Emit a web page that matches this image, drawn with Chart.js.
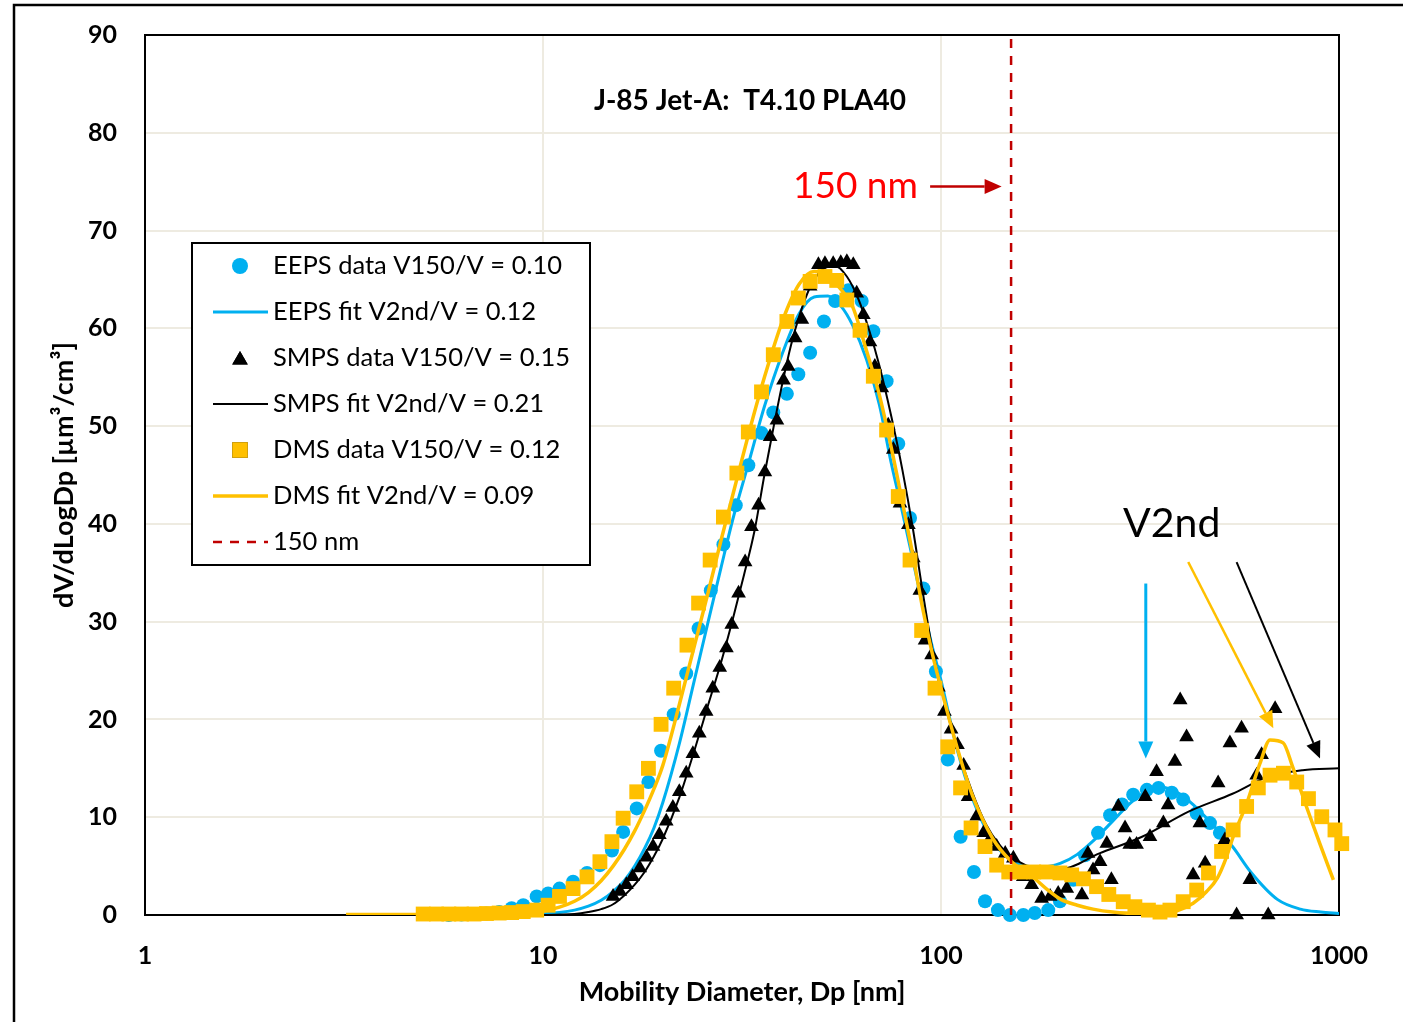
<!DOCTYPE html>
<html>
<head>
<meta charset="utf-8">
<title>J-85 Jet-A: T4.10 PLA40</title>
<script src="https://cdn.jsdelivr.net/npm/chart.js@4.4.1/dist/chart.umd.min.js"></script>
<style>
  html, body { margin: 0; padding: 0; background: #fff; }
  canvas { display: block; }
</style>
</head>
<body>
<canvas id="psd" width="1403" height="1022"></canvas>
<script>
// EEPS measured size distribution (nm, um3/cm3)
const eepsDp = [5.8, 6.24, 6.71, 7.21, 7.76, 8.34, 8.92, 9.64, 10.3, 11.0, 11.9, 12.9, 13.9, 14.9, 15.9, 17.2, 18.4, 19.8, 21.3, 22.9,
  24.6, 26.4, 28.4, 30.5, 32.8, 35.4, 37.9, 41.0, 43.8, 46.9, 50.8, 54.2, 58.5, 63.2, 67.6, 73.0, 78.1, 83.6, 90.3, 97.1,
  104, 112, 121, 129, 139, 149, 161, 172, 186, 199, 215, 230, 248, 266, 285, 304, 329, 352, 380, 406, 439, 474, 502];
const eepsDv = [0.0, 0.05, 0.1, 0.15, 0.3, 0.7, 1.0, 1.9, 2.2, 2.7, 3.4, 4.3, 5.1, 6.6, 8.5, 10.9, 13.6, 16.8, 20.5, 24.7,
  29.3, 33.2, 37.9, 41.9, 46.0, 49.3, 51.4, 53.3, 55.3, 57.5, 60.7, 62.8, 63.9, 62.8, 59.7, 54.6, 48.2, 40.6, 33.4, 24.9,
  15.9, 8.0, 4.4, 1.4, 0.5, 0.0, 0.0, 0.2, 0.5, 1.4, 3.6, 6.1, 8.4, 10.2, 11.3, 12.3, 12.8, 13.0, 12.5, 11.8, 10.4, 9.4, 8.4];

// EEPS bimodal fit
const eepsFitDp = [7, 8, 9, 10, 11, 12, 13, 14, 15, 16, 17, 18, 19, 20, 22, 24, 26, 28, 30, 33, 36, 40, 44, 48, 52, 56, 60, 65, 70,
  75, 80, 85, 90, 95, 100, 110, 120, 130, 140, 150, 160, 180, 200, 220, 240, 270, 300, 330, 355, 390, 430, 480, 540, 600, 700, 800, 900, 1000];
const eepsFitDv = [0, 0.02, 0.05, 0.12, 0.25, 0.5, 0.9, 1.5, 2.4, 3.5, 5.0, 6.8, 8.9, 11.5, 17.5, 24.0, 30.0, 35.5, 40.5, 46.5, 52.0, 57.5, 61.5, 63.2, 63.3, 62.3, 60.3, 56.8, 52.2,
  46.2, 41.2, 36.3, 31.6, 27.5, 24.0, 16.8, 11.9, 8.7, 6.7, 5.6, 5.1, 4.9, 5.3, 6.2, 7.5, 9.6, 11.5, 12.7, 13.1, 12.6, 11.3, 9.3, 7.0, 4.4, 1.6, 0.6, 0.3, 0.15];

// SMPS measured size distribution
const smpsDp = [15.0, 15.6, 16.2, 16.8, 17.5, 18.2, 18.9, 19.6, 20.4, 21.2, 22.0, 22.9, 23.8, 24.7, 25.7, 26.7, 27.8, 28.9, 29.8, 31.0,
  32.2, 33.4, 34.8, 36.1, 37.2, 38.7, 40.2, 41.3, 43.0, 44.7, 46.9, 49.2, 51.1, 53.6, 56.0, 58.0, 60.2, 61.4, 63.8, 66.3,
  68.2, 71.0, 73.7, 75.9, 78.9, 82.8, 85.2, 88.5, 91.2, 94.7, 98.5, 102, 106, 110, 114, 117, 123, 128, 132, 138,
  145, 152, 161, 169, 179, 188, 197, 207, 226, 234, 241, 251, 261, 268, 279, 290, 298, 310, 326, 335,
  348, 362, 372, 387, 399, 414, 430, 447, 461, 497, 517, 532, 553, 569, 597, 621, 639, 664, 691];
const smpsDv = [1.9, 2.4, 3.1, 3.9, 4.8, 5.9, 7.0, 8.2, 9.6, 11.0, 12.6, 14.5, 16.5, 18.6, 20.8, 23.2, 25.3, 27.3, 29.7, 32.9,
  36.1, 39.7, 41.9, 45.3, 48.9, 50.6, 54.7, 56.1, 59.0, 60.9, 64.3, 66.5, 66.6, 66.6, 66.7, 66.8, 66.5, 63.6, 61.4, 58.6,
  56.1, 53.9, 50.1, 47.6, 42.1, 39.9, 36.5, 33.2, 28.1, 26.6, 23.3, 20.8, 19.0, 17.4, 15.3, 12.1, 10.1, 8.4, 7.6, 7.0,
  6.3, 5.8, 3.9, 3.1, 1.7, 1.9, 2.2, 2.7, 2.05, 6.3, 4.6, 5.45, 7.3, 3.6, 11.1, 8.9, 7.2, 7.2, 12.1, 8.0,
  14.65, 9.4, 11.25, 15.7, 22.0, 18.2, 4.1, 9.4, 5.3, 13.5, 7.7, 17.6, 0, 19.1, 3.6, 14.3, 16.4, 0, 21.1];

// SMPS bimodal fit
const smpsFitDp = [8, 10, 12, 13, 14, 15, 16, 17, 18, 19, 20, 22, 24, 26, 28, 30, 32, 34, 36, 38, 40, 42, 44, 47, 50, 54, 58, 62, 66, 70,
  75, 80, 85, 90, 95, 100, 110, 120, 130, 140, 150, 165, 180, 200, 250, 320, 420, 540, 660, 810, 1000];
const smpsFitDv = [0, 0.01, 0.1, 0.3, 0.6, 1.1, 2.0, 3.1, 4.4, 6.0, 7.8, 12.0, 16.8, 21.5, 25.8, 30.3, 34.8, 39.3, 45.0, 50.0, 54.5, 58.3, 61.2, 64.3, 65.9, 66.4, 65.3, 63.0, 59.8, 56.2,
  51.0, 45.5, 39.5, 33.0, 27.3, 23.2, 17.0, 12.5, 9.2, 7.2, 6.0, 5.0, 4.7, 4.7, 6.3, 8.0, 10.6, 12.4, 14.1, 14.8, 15.0];

// DMS measured size distribution
const dmsDp = [5.0, 5.4, 5.8, 6.24, 6.71, 7.21, 7.76, 8.34, 8.92, 9.64, 10.3, 11.0, 11.9, 12.9, 13.9, 14.9, 15.9, 17.2, 18.4, 19.8,
  21.3, 23.0, 24.6, 26.3, 28.4, 30.7, 32.8, 35.4, 37.9, 41.0, 43.8, 46.9, 51.1, 54.7, 58.0, 62.6, 67.6, 73.0, 78.1, 83.6,
  89.4, 96.6, 104, 112, 119, 129, 138, 148, 158, 171, 184, 199, 213, 228, 246, 264, 287, 307, 332, 355,
  376, 406, 439, 470, 507, 542, 586, 627, 671, 725, 783, 838, 905, 977, 1016];
const dmsDv = [0.1, 0.1, 0.1, 0.1, 0.1, 0.15, 0.2, 0.25, 0.35, 0.5, 1.0, 1.9, 2.7, 3.9, 5.45, 7.5, 9.9, 12.6, 15.0, 19.5,
  23.2, 27.6, 31.9, 36.3, 40.7, 45.2, 49.4, 53.5, 57.3, 60.7, 63.1, 64.8, 65.3, 64.9, 62.9, 59.8, 55.1, 49.6, 42.8, 36.3,
  29.1, 23.2, 17.2, 13.0, 8.9, 7.0, 5.1, 4.4, 4.4, 4.4, 4.4, 4.3, 4.1, 3.7, 2.9, 2.1, 1.36, 0.85, 0.5, 0.3,
  0.5, 1.36, 2.55, 4.3, 6.5, 8.7, 11.1, 13.0, 14.3, 14.5, 13.6, 11.9, 10.05, 8.7, 7.3];

// DMS bimodal fit
const dmsFitDp = [3.2, 5, 7, 9, 10, 11, 12, 13, 14, 15, 16, 17, 18, 19, 20, 22, 24, 26, 28, 30, 33, 36, 40, 44, 48, 52, 56, 60, 65, 70,
  75, 80, 85, 90, 95, 100, 110, 120, 135, 150, 170, 185, 200, 220, 241, 270, 310, 350, 390, 430, 465, 495, 520, 542, 586, 633, 671, 724, 764, 828, 895, 968];
const dmsFitDv = [0.05, 0.05, 0.1, 0.2, 0.4, 0.8, 1.4, 2.3, 3.5, 5.0, 6.7, 8.6, 10.7, 12.9, 15.3, 21.5, 27.5, 33.0, 38.3, 43.0, 49.5, 55.0, 60.8, 64.5, 65.8, 65.3, 64.0, 62.2, 57.7, 53.2,
  47.8, 42.2, 36.8, 31.3, 26.8, 23.2, 17.0, 12.2, 7.8, 5.5, 3.9, 2.6, 1.6, 1.0, 0.6, 0.3, 0.15, 0.15, 0.4, 1.2, 2.4, 3.8, 5.8, 8.0, 11.4, 15.5, 17.9, 17.6, 15.2, 11.1, 7.3, 3.6];

const xTicks = [1, 10, 100, 1000];
const yMin = 0, yMax = 90, yStep = 10;
const cutoffDp = 150;

const BLUE = "#00B0F0";
const GOLD = "#FFC000";
const DARKRED = "#C00000";
const FONT = "Lato, 'Open Sans', sans-serif";
const GRID = "#EEEBE1";

const pairs = (xs, ys) => xs.map((x, i) => ({ x, y: ys[i] }));

const legendItems = [
  { text: "EEPS data V150/V = 0.10", marker: "circle", color: BLUE },
  { text: "EEPS fit V2nd/V = 0.12", line: BLUE, width: 3 },
  { text: "SMPS data V150/V = 0.15", marker: "triangle", color: "#000" },
  { text: "SMPS fit V2nd/V = 0.21", line: "#000", width: 2 },
  { text: "DMS data V150/V = 0.12", marker: "rect", color: GOLD },
  { text: "DMS fit V2nd/V = 0.09", line: GOLD, width: 3.5 },
  { text: "150 nm", line: DARKRED, width: 2.5, dash: [9, 8] },
];

// arrows pointing at the second (coarse) mode of each fit, in data units
const v2ndArrows = [
  { from: [327, 33.9], to: [327, 16.0], color: BLUE, width: 3 },
  { from: [418, 36.1], to: [684, 19.1], color: GOLD, width: 2.5 },
  { from: [553, 36.1], to: [896, 16.0], color: "#000", width: 2 },
];

function arrow(ctx, x1, y1, x2, y2, color, width, head = 17, half = 7.5) {
  const a = Math.atan2(y2 - y1, x2 - x1);
  const bx = x2 - head * Math.cos(a);
  const by = y2 - head * Math.sin(a);
  ctx.save();
  ctx.strokeStyle = color;
  ctx.fillStyle = color;
  ctx.lineWidth = width;
  ctx.beginPath();
  ctx.moveTo(x1, y1);
  ctx.lineTo(bx, by);
  ctx.stroke();
  ctx.beginPath();
  ctx.moveTo(x2, y2);
  ctx.lineTo(bx + half * Math.sin(a), by - half * Math.cos(a));
  ctx.lineTo(bx - half * Math.sin(a), by + half * Math.cos(a));
  ctx.closePath();
  ctx.fill();
  ctx.restore();
}

const decorations = {
  id: "decorations",
  beforeDraw(chart) {
    const ctx = chart.ctx;
    ctx.save();
    ctx.fillStyle = "#fff";
    ctx.fillRect(0, 0, chart.width, chart.height);
    ctx.restore();
  },
  beforeDatasetsDraw(chart) {
    const { ctx, chartArea: a } = chart;
    ctx.save();
    ctx.strokeStyle = "#000";
    ctx.lineWidth = 2;
    ctx.strokeRect(a.left, a.top, a.right - a.left, a.bottom - a.top);
    ctx.restore();
  },
  afterDatasetsDraw(chart) {
    const { ctx, chartArea: a, scales } = chart;
    const px = (v) => scales.x.getPixelForValue(v);
    const py = (v) => scales.y.getPixelForValue(v);

    ctx.save();
    // chart title
    ctx.fillStyle = "#000";
    ctx.font = "bold 28px " + FONT;
    ctx.textAlign = "center";
    ctx.textBaseline = "middle";
    ctx.fillText("J-85 Jet-A:  T4.10 PLA40", px(33.1), py(83.3));

    // 150 nm cut label
    ctx.fillStyle = "#FF0000";
    ctx.font = "37px " + FONT;
    ctx.textAlign = "right";
    ctx.fillText("150 nm", px(87.5), py(74.5));
    arrow(ctx, px(93.9), py(74.5), px(142), py(74.5), DARKRED, 2.5);

    // second mode label and arrows
    ctx.fillStyle = "#000";
    ctx.font = "41px " + FONT;
    ctx.textAlign = "center";
    ctx.fillText("V2nd", px(380), py(40.0));
    v2ndArrows.forEach((ar) => {
      arrow(ctx, px(ar.from[0]), py(ar.from[1]), px(ar.to[0]), py(ar.to[1]), ar.color, ar.width);
    });

    // legend box
    const lx = a.left + 47, ly = a.top + 208, lw = 398, lh = 322;
    ctx.fillStyle = "#fff";
    ctx.fillRect(lx, ly, lw, lh);
    ctx.strokeStyle = "#000";
    ctx.lineWidth = 2;
    ctx.strokeRect(lx, ly, lw, lh);
    ctx.font = "25.5px " + FONT;
    ctx.textAlign = "left";
    legendItems.forEach((it, i) => {
      const cy = ly + 23 + i * 46;
      const mx = lx + 48;
      if (it.marker) {
        Chart.helpers.drawPoint(ctx, {
          pointStyle: it.marker,
          radius: it.marker === "rect" ? 11 : it.marker === "triangle" ? 9 : 8,
          borderWidth: 0,
        }, mx, cy + (it.marker === "triangle" ? 2 : 0));
        ctx.fillStyle = it.color;
        ctx.fill();
      } else {
        ctx.save();
        ctx.strokeStyle = it.line;
        ctx.lineWidth = it.width;
        if (it.dash) ctx.setLineDash(it.dash);
        ctx.beginPath();
        ctx.moveTo(lx + 21, cy);
        ctx.lineTo(lx + 76, cy);
        ctx.stroke();
        ctx.restore();
      }
      ctx.fillStyle = "#000";
      ctx.fillText(it.text, lx + 81, cy);
    });

    // outer frame of the figure
    ctx.strokeStyle = "#000";
    ctx.lineWidth = 2.5;
    ctx.strokeRect(14, 5, chart.width + 20, chart.height + 20);
    ctx.restore();
  },
};

const dataPoint = (color, style, radius, order, xs, ys, label) => ({
  label,
  data: pairs(xs, ys),
  showLine: false,
  pointStyle: style,
  pointRadius: radius,
  pointHoverRadius: radius,
  pointBorderWidth: 0,
  pointBackgroundColor: color,
  pointBorderColor: color,
  clip: false,
  order,
});

const fitLine = (color, width, order, xs, ys, label) => ({
  label,
  data: pairs(xs, ys),
  showLine: true,
  pointRadius: 0,
  borderColor: color,
  borderWidth: width,
  backgroundColor: color,
  cubicInterpolationMode: "monotone",
  order,
});

const chart = new Chart(document.getElementById("psd"), {
  type: "scatter",
  data: {
    datasets: [
      dataPoint(BLUE, "circle", 7, 7, eepsDp, eepsDv, "EEPS data"),
      fitLine(BLUE, 3, 6, eepsFitDp, eepsFitDv, "EEPS fit"),
      dataPoint("#000", "triangle", 8.5, 5, smpsDp, smpsDv, "SMPS data"),
      fitLine("#000", 2, 4, smpsFitDp, smpsFitDv, "SMPS fit"),
      dataPoint(GOLD, "rect", 10.5, 3, dmsDp, dmsDv, "DMS data"),
      fitLine(GOLD, 3.5, 2, dmsFitDp, dmsFitDv, "DMS fit"),
      {
        label: "150 nm",
        data: [{ x: cutoffDp, y: yMin }, { x: cutoffDp, y: yMax }],
        showLine: true,
        pointRadius: 0,
        borderColor: DARKRED,
        borderWidth: 2.5,
        borderDash: [9, 8],
        order: 1,
      },
    ],
  },
  options: {
    responsive: false,
    animation: false,
    devicePixelRatio: 1,
    layout: { padding: { left: 0, top: 35, right: 64, bottom: 0 } },
    plugins: { legend: { display: false }, tooltip: { enabled: false } },
    scales: {
      x: {
        type: "logarithmic",
        min: 1,
        max: 1000,
        afterBuildTicks: (scale) => { scale.ticks = xTicks.map((v) => ({ value: v })); },
        afterFit: (scale) => {
          scale.height = 107;
          scale.paddingLeft = 0;
          scale.paddingRight = 0;
        },
        border: { display: false },
        grid: {
          drawTicks: false,
          lineWidth: 2,
          color: (c) => (c.tick && (c.tick.value === 1 || c.tick.value === 1000) ? "rgba(0,0,0,0)" : GRID),
        },
        ticks: {
          padding: 26,
          color: "#000",
          font: { family: FONT, size: 25, weight: "bold" },
          callback: (v) => String(v),
        },
        title: {
          display: true,
          text: "Mobility Diameter, Dp [nm]",
          color: "#000",
          font: { family: FONT, size: 27, weight: "bold" },
          padding: { top: 0, bottom: 14 },
        },
      },
      y: {
        min: yMin,
        max: yMax,
        afterFit: (scale) => {
          scale.width = 145;
          scale.paddingTop = 0;
          scale.paddingBottom = 0;
        },
        border: { display: false },
        grid: {
          drawTicks: false,
          lineWidth: 2,
          color: (c) => (c.tick && (c.tick.value === yMin || c.tick.value === yMax) ? "rgba(0,0,0,0)" : GRID),
        },
        ticks: {
          stepSize: yStep,
          padding: 28,
          color: "#000",
          font: { family: FONT, size: 25, weight: "bold" },
        },
        title: {
          display: true,
          text: "dV/dLogDp [µm³/cm³]",
          color: "#000",
          font: { family: FONT, size: 27, weight: "bold" },
          padding: { top: 48, bottom: 0 },
        },
      },
    },
  },
  plugins: [decorations],
});
</script>
</body>
</html>
